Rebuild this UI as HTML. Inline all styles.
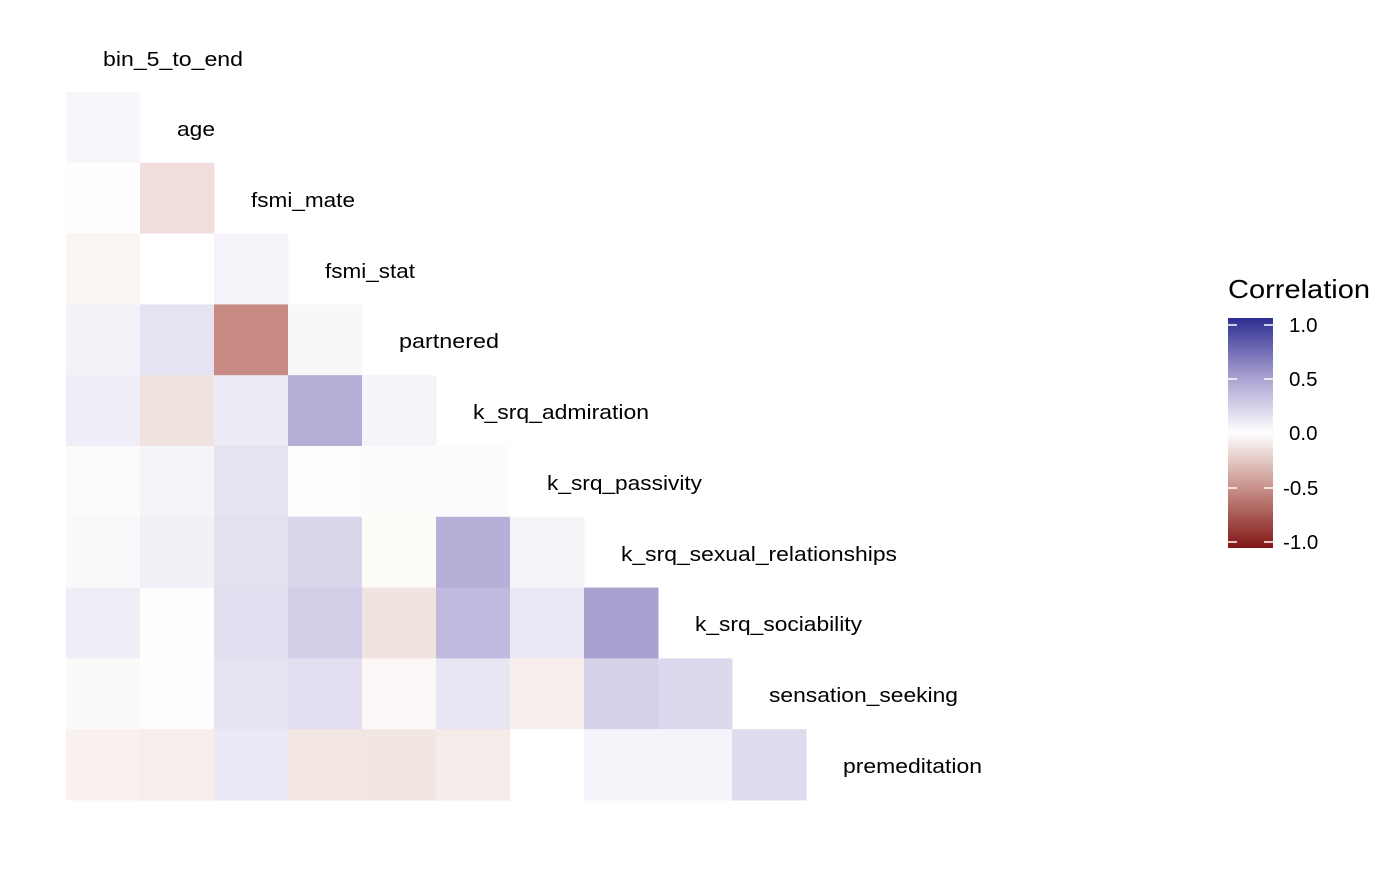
<!DOCTYPE html>
<html><head><style>
body{margin:0;background:#fff;width:1400px;height:865px;overflow:hidden;font-family:"Liberation Sans",sans-serif;}
</style></head><body>
<svg width="1400" height="865" xmlns="http://www.w3.org/2000/svg" font-family="Liberation Sans, sans-serif">
<defs><linearGradient id="g" x1="0" y1="0" x2="0" y2="1">
<stop offset="0" stop-color="#2e2e92"/><stop offset="0.25" stop-color="#a59dcf"/><stop offset="0.5" stop-color="#ffffff"/><stop offset="0.75" stop-color="#c58c84"/><stop offset="1" stop-color="#821616"/></linearGradient></defs>
<g id="cells"></g>
<g font-size="20.5" fill="#000" lengthAdjust="spacingAndGlyphs">
<text x="103" y="66" textLength="140" lengthAdjust="spacingAndGlyphs">bin_5_to_end</text>
<text x="177" y="136" textLength="38" lengthAdjust="spacingAndGlyphs">age</text>
<text x="251" y="207" textLength="104" lengthAdjust="spacingAndGlyphs">fsmi_mate</text>
<text x="325" y="278" textLength="90" lengthAdjust="spacingAndGlyphs">fsmi_stat</text>
<text x="399" y="348" textLength="100" lengthAdjust="spacingAndGlyphs">partnered</text>
<text x="473" y="419" textLength="176" lengthAdjust="spacingAndGlyphs">k_srq_admiration</text>
<text x="547" y="490" textLength="155" lengthAdjust="spacingAndGlyphs">k_srq_passivity</text>
<text x="621" y="561" textLength="276" lengthAdjust="spacingAndGlyphs">k_srq_sexual_relationships</text>
<text x="695" y="631" textLength="167" lengthAdjust="spacingAndGlyphs">k_srq_sociability</text>
<text x="769" y="702" textLength="189" lengthAdjust="spacingAndGlyphs">sensation_seeking</text>
<text x="843" y="773" textLength="139" lengthAdjust="spacingAndGlyphs">premeditation</text>
</g>
<text x="1228" y="298" font-size="26" textLength="142" lengthAdjust="spacingAndGlyphs">Correlation</text>
<rect x="1228" y="318" width="45" height="230" fill="url(#g)"/>
<g stroke="#fff" stroke-width="1.5">
<line x1="1228" y1="325" x2="1237" y2="325"/><line x1="1264" y1="325" x2="1273" y2="325"/>
<line x1="1228" y1="379" x2="1237" y2="379"/><line x1="1264" y1="379" x2="1273" y2="379"/>
<line x1="1228" y1="433" x2="1237" y2="433"/><line x1="1264" y1="433" x2="1273" y2="433"/>
<line x1="1228" y1="488" x2="1237" y2="488"/><line x1="1264" y1="488" x2="1273" y2="488"/>
<line x1="1228" y1="542" x2="1237" y2="542"/><line x1="1264" y1="542" x2="1273" y2="542"/>
</g>
<g font-size="20.5">
<text x="1289" y="332">1.0</text><text x="1289" y="386">0.5</text><text x="1289" y="440">0.0</text>
<text x="1283" y="495">-0.5</text><text x="1283" y="549">-1.0</text>
</g>
</svg>
<script>
var rows=[
["#f7f6fb"],
["#fefefe","#f0dfdd"],
["#faf4f3","#ffffff","#f5f3f9"],
["#f3f2f9","#e5e2f1","#c78a82","#f8f8fb"],
["#efedf7","#f0e2df","#edebf6","#b5aed6","#f5f4f9"],
["#fbfbfb","#f5f4f9","#e5e3f1","#fdfdfd","#fdfcfa","#fcfcfe"],
["#f9f9fb","#f1f0f7","#e3e0f0","#dad6eb","#fcfbf8","#b6afd7","#f5f4f9"],
["#efeef6","#fdfdfe","#e2dff0","#d3cee7","#f1e3e0","#c1bade","#ebe9f5","#aaa1d0"],
["#fcfaf9","#fefefe","#e6e3f2","#e2def0","#fcf8f7","#e8e6f3","#f8eeec","#d5d1e9","#dcd8ed"],
["#f8f1ef","#f7eeec","#eae8f5","#f3e7e4","#f2e6e3","#f5ebe8","#ffffff","#f5f4fa","#f5f4fa","#dfdbee"]];
var g=document.getElementById("cells"),s="";
rows.forEach(function(r,i){r.forEach(function(c,j){
var y=92+i*70.8;s+='<rect x="'+(66+j*74)+'" y="'+y+'" width="74.5" height="71.3" fill="'+c+'"/>';});});
g.innerHTML=s;
</script>
</body></html>
